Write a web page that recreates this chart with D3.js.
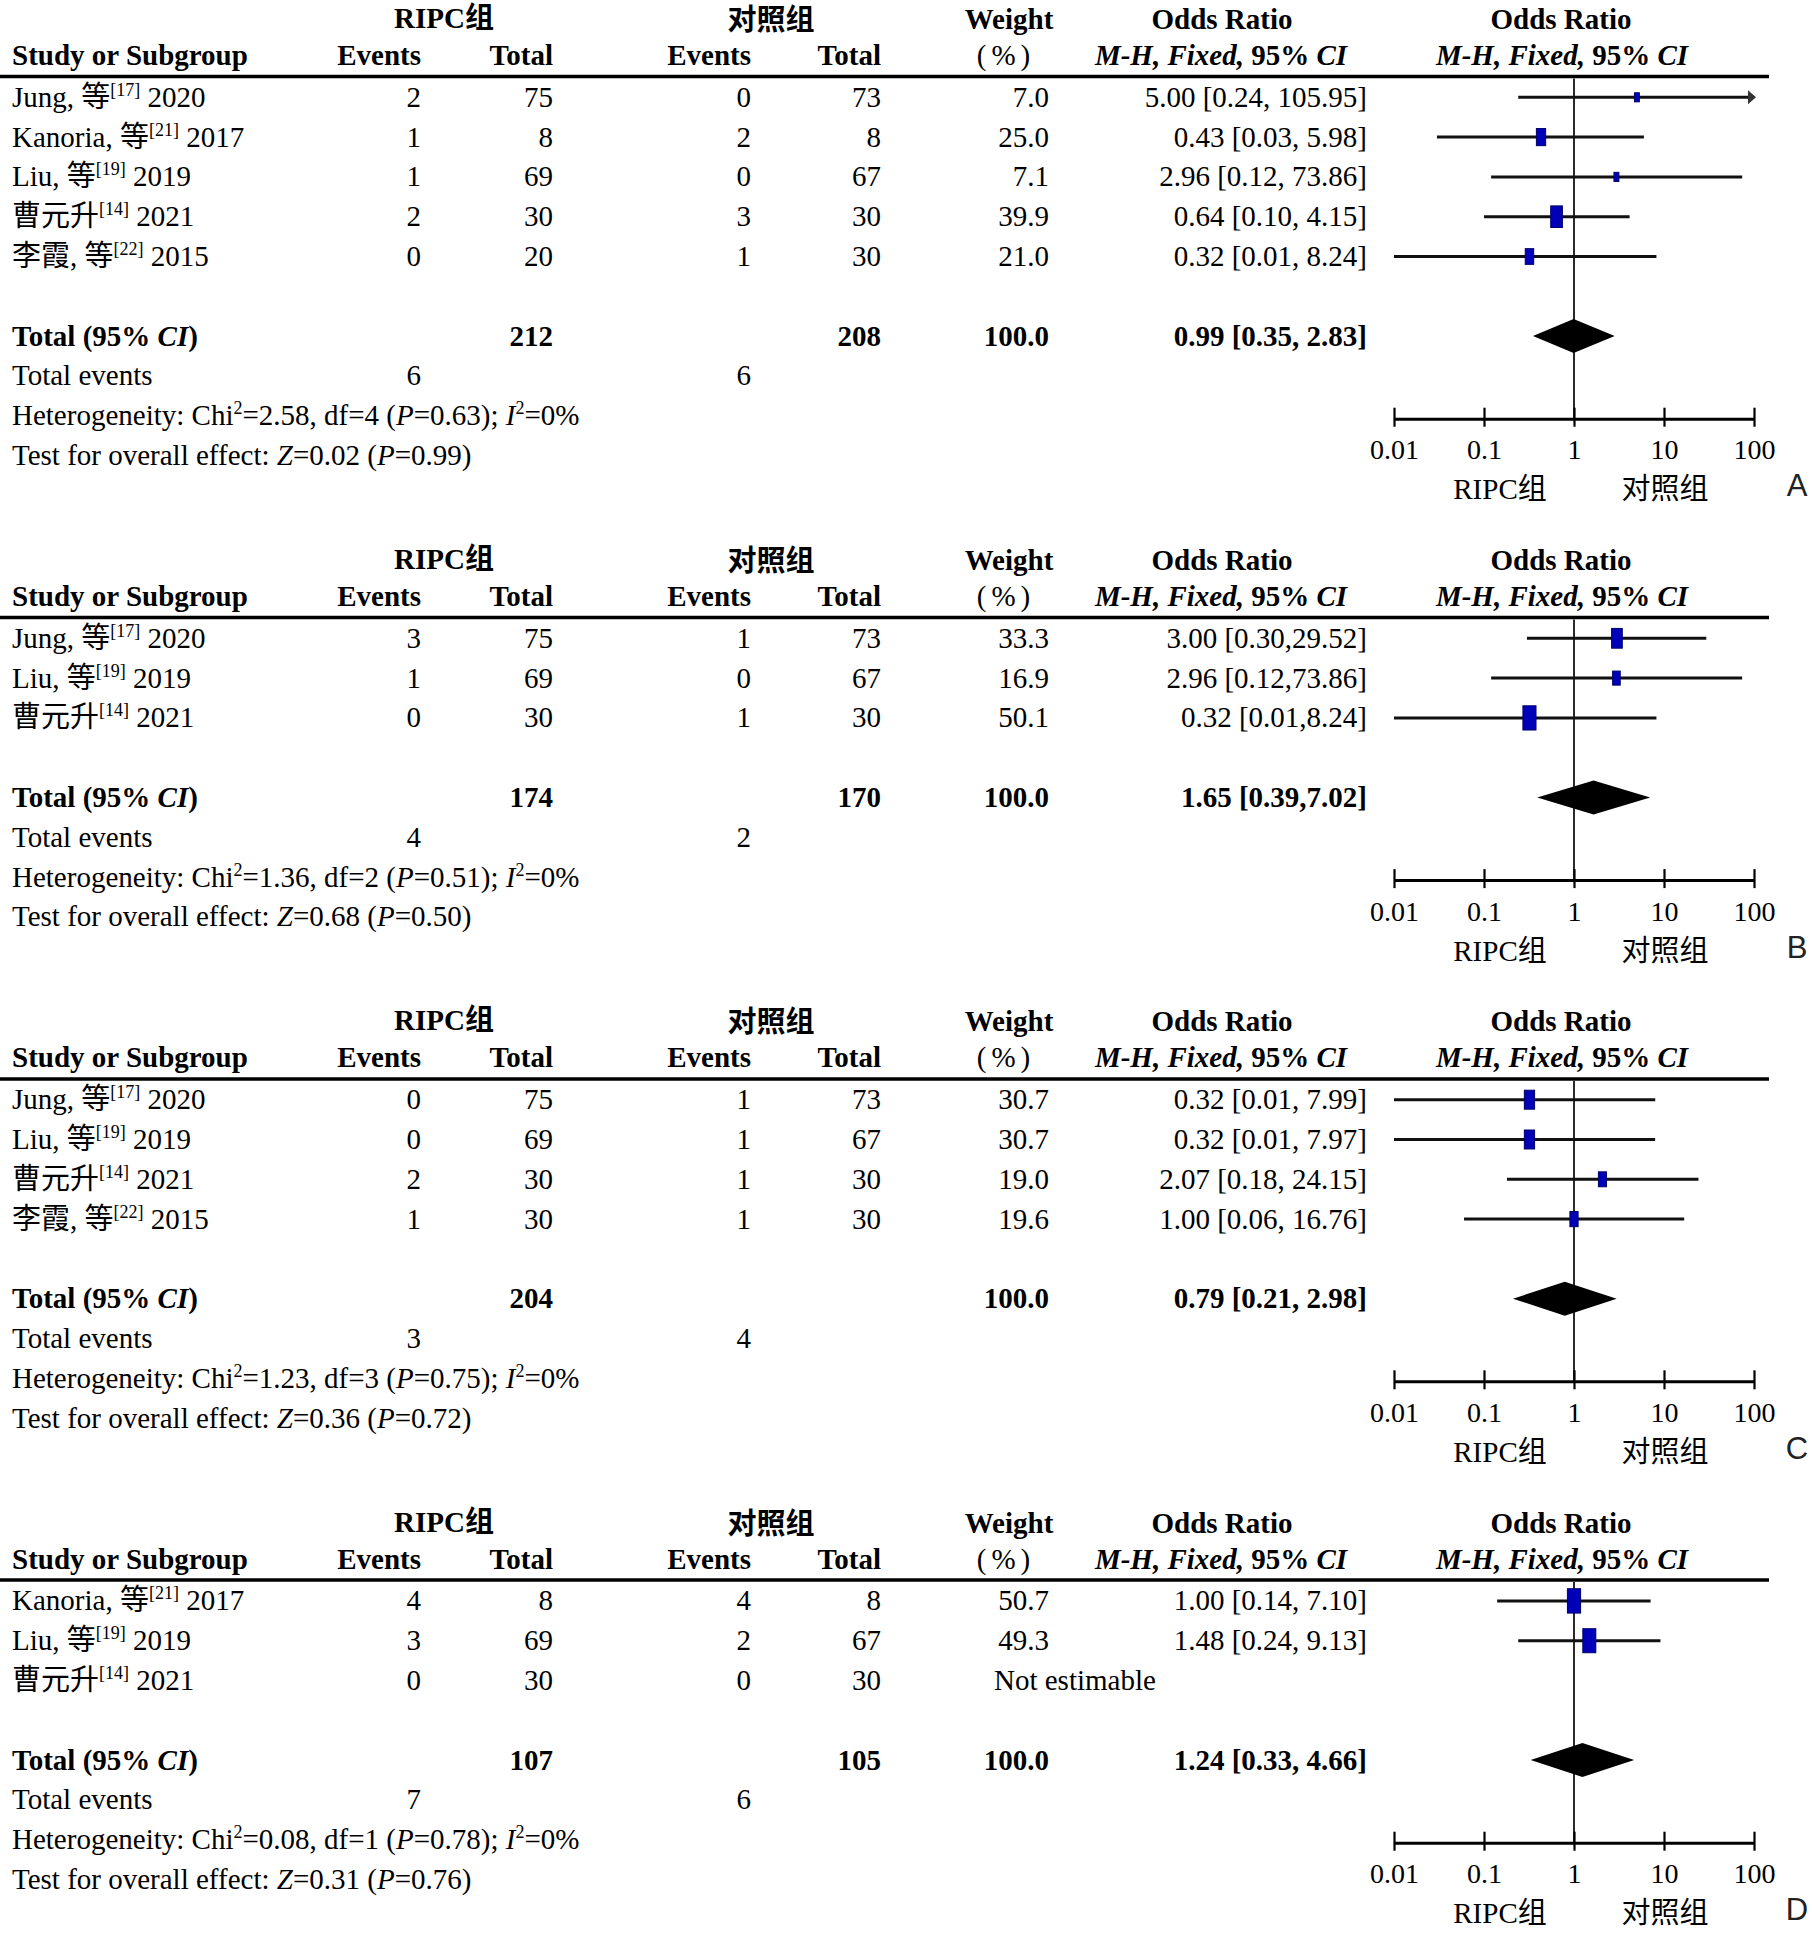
<!DOCTYPE html>
<html>
<head>
<meta charset="utf-8">
<script src="https://cdn.jsdelivr.net/npm/d3@7"></script>
<style>
  body { margin: 0; background: #fff; }
</style>
</head>
<body>
<div id="chart"></div>
<script>
// ---- data, one entry per panel (A, B, C, D) ----
const panels = ["A", "B", "C", "D"];
const groupNames = ["RIPC组", "对照组"];

// study label: [name, reference number, year]
const studies = [
  [["Jung, 等", "17", "2020"], ["Kanoria, 等", "21", "2017"], ["Liu, 等", "19", "2019"], ["曹元升", "14", "2021"], ["李霞, 等", "22", "2015"]],
  [["Jung, 等", "17", "2020"], ["Liu, 等", "19", "2019"], ["曹元升", "14", "2021"]],
  [["Jung, 等", "17", "2020"], ["Liu, 等", "19", "2019"], ["曹元升", "14", "2021"], ["李霞, 等", "22", "2015"]],
  [["Kanoria, 等", "21", "2017"], ["Liu, 等", "19", "2019"], ["曹元升", "14", "2021"]]
];
const ripcEvents = [[2, 1, 1, 2, 0], [3, 1, 0], [0, 0, 2, 1], [4, 3, 0]];
const ripcTotals = [[75, 8, 69, 30, 20], [75, 69, 30], [75, 69, 30, 30], [8, 69, 30]];
const ctrlEvents = [[0, 2, 0, 3, 1], [1, 0, 1], [1, 1, 1, 1], [4, 2, 0]];
const ctrlTotals = [[73, 8, 67, 30, 30], [73, 67, 30], [73, 67, 30, 30], [8, 67, 30]];
const weights = [[7.0, 25.0, 7.1, 39.9, 21.0], [33.3, 16.9, 50.1], [30.7, 30.7, 19.0, 19.6], [50.7, 49.3, null]];
const oddsRatios = [[5.00, 0.43, 2.96, 0.64, 0.32], [3.00, 2.96, 0.32], [0.32, 0.32, 2.07, 1.00], [1.00, 1.48, null]];
const ciLow = [[0.24, 0.03, 0.12, 0.10, 0.01], [0.30, 0.12, 0.01], [0.01, 0.01, 0.18, 0.06], [0.14, 0.24, null]];
const ciHigh = [[105.95, 5.98, 73.86, 4.15, 8.24], [29.52, 73.86, 8.24], [7.99, 7.97, 24.15, 16.76], [7.10, 9.13, null]];
const ciSeparator = [", ", ",", ", ", ", "];

// totals: [RIPC total, control total]
const totalN = [[212, 208], [174, 170], [204, null], [107, 105]];
const pooled = [[0.99, 0.35, 2.83], [1.65, 0.39, 7.02], [0.79, 0.21, 2.98], [1.24, 0.33, 4.66]];
const totalEvents = [[6, 6], [4, 2], [3, 4], [7, 6]];
// [Chi2, df, P, I2]
const heterogeneity = [[2.58, 4, 0.63, 0], [1.36, 2, 0.51, 0], [1.23, 3, 0.75, 0], [0.08, 1, 0.78, 0]];
// [Z, P]
const overallEffect = [[0.02, 0.99], [0.68, 0.50], [0.36, 0.72], [0.31, 0.76]];

const tickValues = [0.01, 0.1, 1, 10, 100];
const tickLabels = ["0.01", "0.1", "1", "10", "100"];

// ---- layout ----
const width = 1812, height = 1933;
const rowH = 39.8;
const fs = 29;
const serif = "'Liberation Serif','Noto Sans CJK SC',serif";
const col = {study: 12, rEv: 421, rTot: 553, cEv: 751, cTot: 881, weight: 1049, orText: 1367, notEst: 994};

const x = d3.scaleLog().domain([0.01, 100]).range([1394, 1754]);
const f1 = d3.format(".1f"), f2 = d3.format(".2f");

const svg = d3.select("#chart").append("svg")
    .attr("width", width)
    .attr("height", height)
    .style("font-family", serif)
    .style("font-size", fs + "px")
    .attr("fill", "#000");

// text with mixed italic / bold / superscript runs
function addText(g, xPos, yCenter, anchor, parts, extra) {
  const t = g.append("text")
      .attr("x", xPos)
      .attr("y", yCenter + 9.5)
      .attr("text-anchor", anchor);
  if (extra) extra(t);
  let shift = 0;
  parts.forEach(p => {
    if (typeof p === "string") p = {t: p};
    const ts = t.append("tspan").text(p.t);
    const target = p.sup ? -11 : 0;
    if (target !== shift) { ts.attr("dy", target - shift); shift = target; }
    if (p.sup) ts.style("font-size", "18px");
    if (p.i) ts.style("font-style", "italic");
    if (p.b) ts.style("font-weight", "bold");
  });
  return t;
}
const bold = t => t.style("font-weight", "bold");

let panelTop = 0;
panels.forEach((label, p) => {
  const n = studies[p].length;
  const g = svg.append("g").attr("transform", `translate(0,${panelTop})`);

  const lineY = 76.5, row0 = 97.3;
  const rowY = i => row0 + i * rowH;
  const totalY = rowY(n + 1), eventsY = rowY(n + 2), hetY = rowY(n + 3), testY = rowY(n + 4);
  const axisY = hetY + 3;

  // header
  addText(g, 444, lineY - 58, "middle", [groupNames[0]], bold);
  addText(g, 771, lineY - 56, "middle", [groupNames[1]], bold);
  addText(g, 1009, lineY - 57, "middle", ["Weight"], bold);
  addText(g, 1222, lineY - 57, "middle", ["Odds Ratio"], bold);
  addText(g, 1561, lineY - 57, "middle", ["Odds Ratio"], bold);

  addText(g, col.study, lineY - 21, "start", ["Study or Subgroup"], bold);
  addText(g, col.rEv, lineY - 21, "end", ["Events"], bold);
  addText(g, col.rTot, lineY - 21, "end", ["Total"], bold);
  addText(g, col.cEv, lineY - 21, "end", ["Events"], bold);
  addText(g, col.cTot, lineY - 21, "end", ["Total"], bold);
  addText(g, 1006, lineY - 21, "middle", ["(%)"], t => t.style("letter-spacing", "5px"));
  const mh = [{t: "M-H, Fixed, ", i: true}, "95% ", {t: "CI", i: true}];
  addText(g, 1221, lineY - 21, "middle", mh, bold);
  addText(g, 1562, lineY - 21, "middle", mh, bold);

  g.append("line")
      .attr("x1", 0).attr("x2", 1769)
      .attr("y1", lineY).attr("y2", lineY)
      .attr("stroke", "#000").attr("stroke-width", 3.5);

  // study rows
  studies[p].forEach((s, i) => {
    const y = rowY(i);
    addText(g, col.study, y, "start", [s[0], {t: "[" + s[1] + "]", sup: true}, " " + s[2]]);
    addText(g, col.rEv, y, "end", [String(ripcEvents[p][i])]);
    addText(g, col.rTot, y, "end", [String(ripcTotals[p][i])]);
    addText(g, col.cEv, y, "end", [String(ctrlEvents[p][i])]);
    addText(g, col.cTot, y, "end", [String(ctrlTotals[p][i])]);
    if (weights[p][i] == null) {
      addText(g, col.notEst, y, "start", ["Not estimable"]);
    } else {
      addText(g, col.weight, y, "end", [f1(weights[p][i])]);
      addText(g, col.orText, y, "end",
        [`${f2(oddsRatios[p][i])} [${f2(ciLow[p][i])}${ciSeparator[p]}${f2(ciHigh[p][i])}]`]);
    }
  });

  // totals
  addText(g, col.study, totalY, "start", ["Total (95% ", {t: "CI", i: true}, ")"], bold);
  addText(g, col.rTot, totalY, "end", [String(totalN[p][0])], bold);
  if (totalN[p][1] != null) addText(g, col.cTot, totalY, "end", [String(totalN[p][1])], bold);
  addText(g, col.weight, totalY, "end", ["100.0"], bold);
  const pl = pooled[p];
  addText(g, col.orText, totalY, "end", [`${f2(pl[0])} [${f2(pl[1])}${ciSeparator[p]}${f2(pl[2])}]`], bold);

  addText(g, col.study, eventsY, "start", ["Total events"]);
  addText(g, col.rEv, eventsY, "end", [String(totalEvents[p][0])]);
  addText(g, col.cEv, eventsY, "end", [String(totalEvents[p][1])]);

  const h = heterogeneity[p];
  addText(g, col.study, hetY, "start", [
    "Heterogeneity: Chi", {t: "2", sup: true}, `=${f2(h[0])}, df=${h[1]} (`,
    {t: "P", i: true}, `=${f2(h[2])}); `, {t: "I", i: true}, {t: "2", sup: true}, `=${h[3]}%`
  ]);
  const z = overallEffect[p];
  addText(g, col.study, testY, "start", [
    "Test for overall effect: ", {t: "Z", i: true}, `=${f2(z[0])} (`, {t: "P", i: true}, `=${f2(z[1])})`
  ]);

  // forest plot
  g.append("line")
      .attr("x1", x(1)).attr("x2", x(1))
      .attr("y1", lineY + 2).attr("y2", axisY)
      .attr("stroke", "#2a2a2a").attr("stroke-width", 2);

  studies[p].forEach((s, i) => {
    const or = oddsRatios[p][i];
    if (or == null) return;
    const y = rowY(i);
    const lo = Math.max(ciLow[p][i], 0.01), hi = Math.min(ciHigh[p][i], 100);
    g.append("line")
        .attr("x1", x(lo)).attr("x2", x(hi))
        .attr("y1", y).attr("y2", y)
        .attr("stroke", "#111").attr("stroke-width", 3);
    if (ciHigh[p][i] > 100) {
      const xe = x(100);
      g.append("path")
          .attr("d", `M${xe - 6},${y - 7}L${xe + 2},${y}L${xe - 6},${y + 7}Z`)
          .attr("fill", "#333");
    }
    const bw = 1.85 * Math.sqrt(weights[p][i]), bh = 1.85 * bw;
    g.append("rect")
        .attr("x", x(or) - bw / 2).attr("y", y - bh / 2)
        .attr("width", bw).attr("height", bh)
        .attr("fill", "#0000b8").attr("stroke", "#00006a").attr("stroke-width", 1);
  });

  g.append("path")
      .attr("d", `M${x(pl[1])},${totalY}L${x(pl[0])},${totalY - 17}L${x(pl[2])},${totalY}L${x(pl[0])},${totalY + 17}Z`)
      .attr("fill", "#000");

  const ax = g.append("g")
      .attr("transform", `translate(0,${axisY})`)
      .call(d3.axisBottom(x).tickValues(tickValues).tickFormat((d, i) => tickLabels[i])
        .tickSizeInner(8).tickSizeOuter(0));
  ax.attr("font-size", null).attr("font-family", null);
  ax.select(".domain").attr("stroke", "#000").attr("stroke-width", 3);
  ax.selectAll(".tick line").attr("y1", -11).attr("y2", 8).attr("stroke", "#000").attr("stroke-width", 2.2);
  ax.selectAll(".tick text")
      .attr("y", 31 + 9.5).attr("dy", null)
      .attr("fill", "#000")
      .style("font-size", "28px");

  addText(g, 1500, axisY + 71, "middle", [groupNames[0]]);
  addText(g, 1665, axisY + 71, "middle", [groupNames[1]]);

  addText(g, 1797, axisY + 68, "middle", [label], t => t
      .style("font-family", "'Liberation Sans',Arial,sans-serif")
      .style("font-size", "31px")
      .attr("fill", "#222"));

  panelTop += 342 + n * rowH;
});
</script>
</body>
</html>
